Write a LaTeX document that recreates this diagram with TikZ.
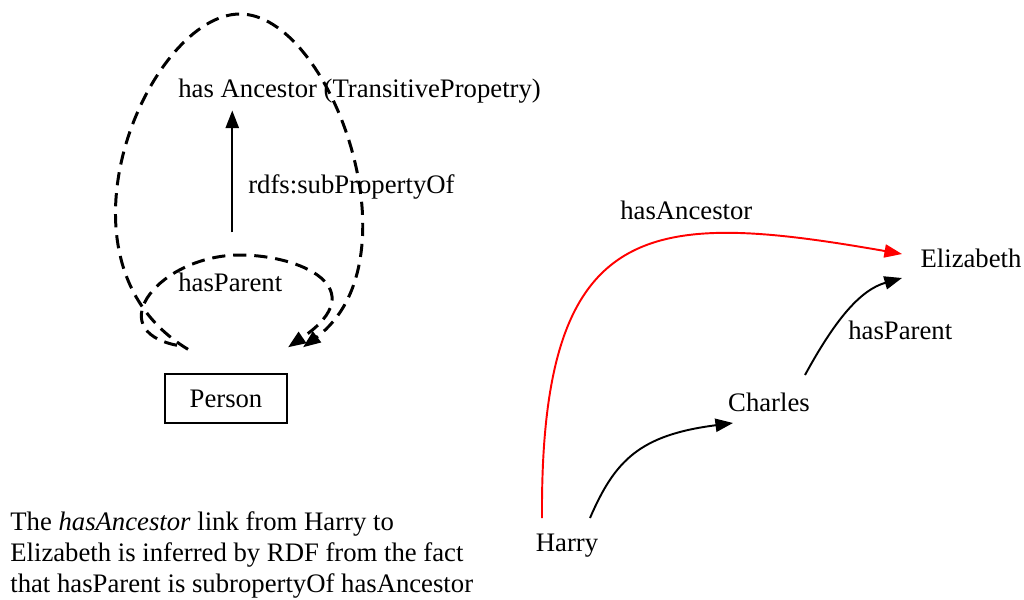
\documentclass[tikz,border=0pt]{standalone}
\usepackage{fontspec}
\setmainfont{Liberation Serif}
\usetikzlibrary{arrows.meta, calc, positioning}

\begin{document}
\begin{tikzpicture}[x=0.02cm, y=-0.02cm, >={Triangle[length=10pt, width=7.5pt]},
    font=\fontsize{15.2}{17.6}\selectfont,
    lbl/.style={inner sep=0pt, anchor=west},
    txt/.style={inner sep=0pt},
    link/.style={->, line width=1.1pt},
    dashlink/.style={->, line width=1.7pt, dash pattern=on 7.5pt off 4.5pt}]
    \useasboundingbox (0,0) rectangle (1024,599);

    % Schema: class and properties
    \node[draw, line width=0.8pt, minimum width=2.44cm, minimum height=0.98cm] (person) at (226,398.5) {Person};
    \node[lbl] (anc) at (178,91) {has Ancestor (TransitivePropetry)};
    \node[lbl] (hp) at (178,282) {hasParent};
    \node[lbl] (sub) at (248,187) {rdfs:subPropertyOf};

    % subPropertyOf link
    \draw[link, shorten <=0.8cm, shorten >=0.14cm] ([xshift=0.04cm]hp.north) -- ([xshift=0.04cm]hp.north |- anc.south);

    % Self loops on Person
    \draw[dashlink] ($(person.north)+(-38,-24)$) .. controls (40,260) and (150,14) .. (240,14)
        .. controls (330,14) and (420,260) .. ($(person.north)+(77,-26)$);
    \draw[dashlink] ($(person.north)+(-49,-28)$) .. controls (100,330) and (160,255) .. (240,255)
        .. controls (300,255) and (375,288) .. ($(person.north)+(62,-26)$);

    % Instances
    \node[txt] (eliz) at (971,258) {Elizabeth};
    \node[txt] (charles) at (769,402) {Charles};
    \node[txt] (harry) at (567,546) {Harry};
    \node[lbl] (ancl) at (620,210) {hasAncestor};
    \node[lbl] (hpl) at (848,330) {hasParent};

    \draw[link, red] ($(harry)+(-25,-28)$) .. controls (540,215) and (650,210) .. ($(eliz)+(-69,-4)$);
    \draw[link] ($(harry)+(23,-28)$) .. controls (615,460) and (640,435) .. ($(charles)+(-36,21)$);
    \draw[link] ($(charles)+(36,-27)$) .. controls (835,320) and (860,290) .. ($(eliz)+(-69,20)$);

    % Note
    \node[txt, anchor=north west, align=left] (note) at (10,511) {The \textit{hasAncestor} link from Harry to\\
        Elizabeth is inferred by RDF from the fact\\
        that hasParent is subropertyOf hasAncestor};
\end{tikzpicture}
\end{document}
